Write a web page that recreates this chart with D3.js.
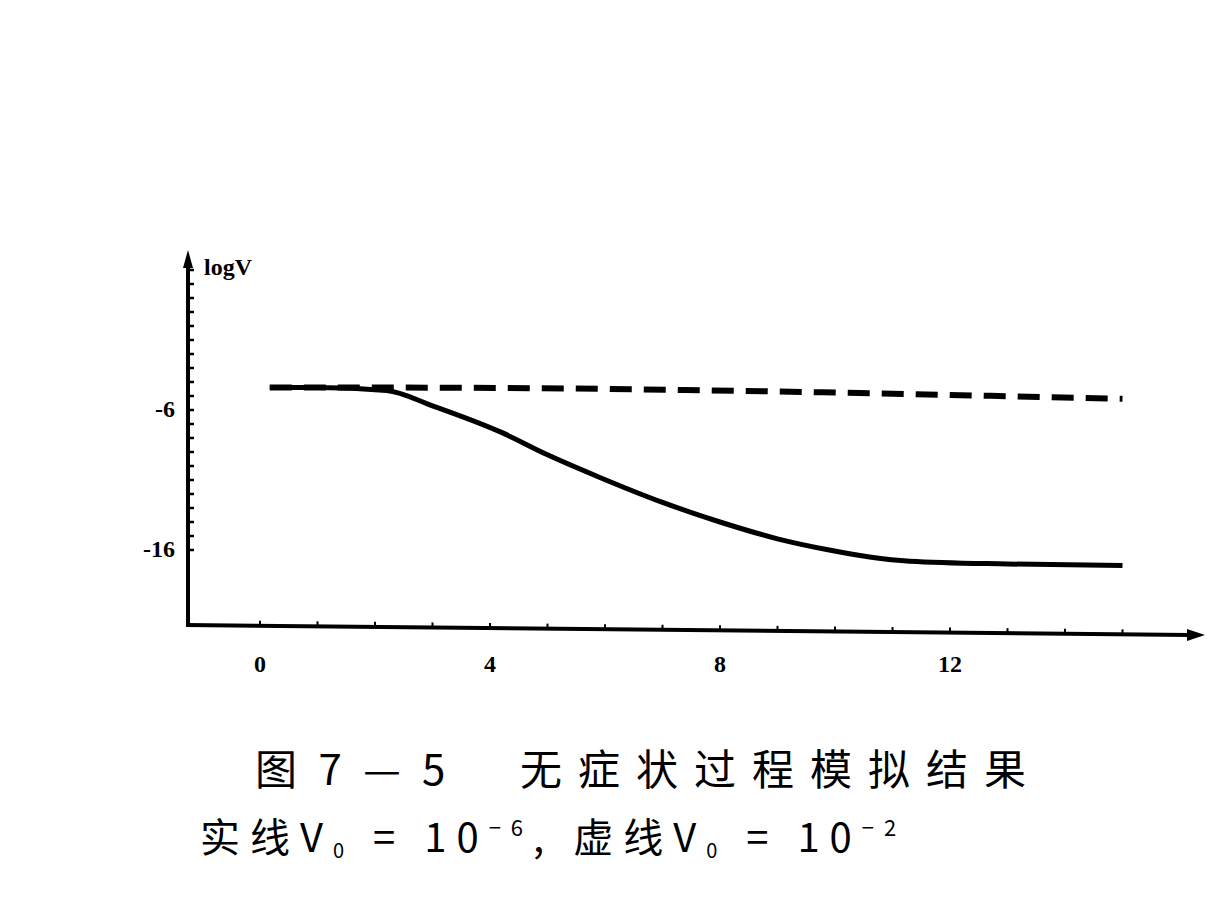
<!DOCTYPE html>
<html><head><meta charset="utf-8">
<script src="https://cdn.jsdelivr.net/npm/d3@7"></script>
<style>body{margin:0;background:#fff}</style></head>
<body><svg id="c" width="1211" height="917"></svg>
<script>
const xTicks = [0, 4, 8, 12];
const xTickLabels = ["0", "4", "8", "12"];
const yTicks = [-6, -16];
const yTickLabels = ["-6", "-16"];
const solidT = [0.17, 1, 2.2, 3, 4.2, 5, 5.9, 7, 8, 9, 9.9, 10.6, 11.3, 13, 15];
const solidV = [-4.4, -4.4, -4.6, -5.7, -7.6, -9.2, -10.8, -12.6, -14, -15.2, -16, -16.5, -16.8, -17, -17.1];
const dashT = [0.17, 2.2, 15];
const dashV = [-4.4, -4.4, -5.2];

const svg = d3.select("#c");
const x = d3.scaleLinear().domain([0, 4]).range([260, 490]);
const y = d3.scaleLinear().domain([-6, -16]).range([410, 550]);
const x0 = 188, yAxisY = 625;
const ink = "#000";

svg.append("line").attr("x1", x0).attr("x2", x0).attr("y1", 262).attr("y2", yAxisY + 2).attr("stroke", ink).attr("stroke-width", 4);
svg.append("path").attr("d", `M${x0},250 L${x0-5},268 L${x0+5},268 Z`).attr("fill", ink);
svg.append("text").attr("x", 204).attr("y", 275).text("logV").attr("font-family", "Liberation Serif").attr("font-weight", "bold").attr("font-size", 24);
const minor = d3.range(4, -17, -1);
svg.selectAll(".ym").data(minor).join("line").attr("x1", x0).attr("x2", x0 + 6)
  .attr("y1", d => y(d)).attr("y2", d => y(d)).attr("stroke", ink).attr("stroke-width", 2.5);
svg.selectAll(".yl").data(yTicks).join("text").attr("x", 175).attr("y", d => y(d) + 7).attr("text-anchor", "end")
  .attr("font-family", "Liberation Serif").attr("font-weight", "bold").attr("font-size", 24)
  .text((d, i) => yTickLabels[i]);

svg.append("line").attr("x1", x0 - 2).attr("x2", 1190).attr("y1", yAxisY).attr("y2", yAxisY + 10).attr("stroke", ink).attr("stroke-width", 4);
svg.append("path").attr("d", `M1205,${yAxisY+10} L1187,${yAxisY+4} L1187,${yAxisY+16} Z`).attr("fill", ink);
const xm = d3.range(0, 15.5, 1);
svg.selectAll(".xm").data(xm).join("line").attr("x1", d => x(d)).attr("x2", d => x(d))
  .attr("y1", d => yAxisY + (x(d) - x0) / (1190 - x0) * 10 - 5).attr("y2", d => yAxisY + (x(d) - x0) / (1190 - x0) * 10)
  .attr("stroke", ink).attr("stroke-width", 2);
svg.selectAll(".xl").data(xTicks).join("text").attr("x", d => x(d)).attr("y", 672).attr("text-anchor", "middle")
  .attr("font-family", "Liberation Serif").attr("font-weight", "bold").attr("font-size", 24)
  .text((d, i) => xTickLabels[i]);

const line = d3.line().x(d => x(d[0])).y(d => y(d[1])).curve(d3.curveMonotoneX);
svg.append("path").attr("d", line(solidT.map((t, i) => [t, solidV[i]]))).attr("fill", "none").attr("stroke", ink).attr("stroke-width", 5);
svg.append("path").attr("d", line(dashT.map((t, i) => [t, dashV[i]]))).attr("fill", "none").attr("stroke", ink).attr("stroke-width", 6)
  .attr("stroke-dasharray", "22,12");

const cap = {"font-family": "Noto Sans CJK SC", "font-size": 42};
function txt(xp, yp, s, ls) {
  const t = svg.append("text").attr("x", xp).attr("y", yp).attr("letter-spacing", ls).text(s);
  Object.entries(cap).forEach(([k, v]) => t.attr(k, v));
  return t;
}
txt(255, 785, "图 7 — 5", 6);
txt(520, 785, "无症状过程模拟结果", 16);
const t2 = svg.append("text").attr("x", 200).attr("y", 852).attr("font-family", "Noto Sans CJK SC").attr("font-size", 40).attr("letter-spacing", 10);
t2.append("tspan").text("实线V");
t2.append("tspan").attr("font-size", 20).attr("dy", 6).text("0");
t2.append("tspan").attr("dy", -6).text(" = 10");
t2.append("tspan").attr("font-size", 22).attr("dy", -16).text("−6");
t2.append("tspan").attr("dy", 16).text(", 虚线V");
t2.append("tspan").attr("font-size", 20).attr("dy", 6).text("0");
t2.append("tspan").attr("dy", -6).text(" = 10");
t2.append("tspan").attr("font-size", 22).attr("dy", -16).text("−2");
</script></body></html>
